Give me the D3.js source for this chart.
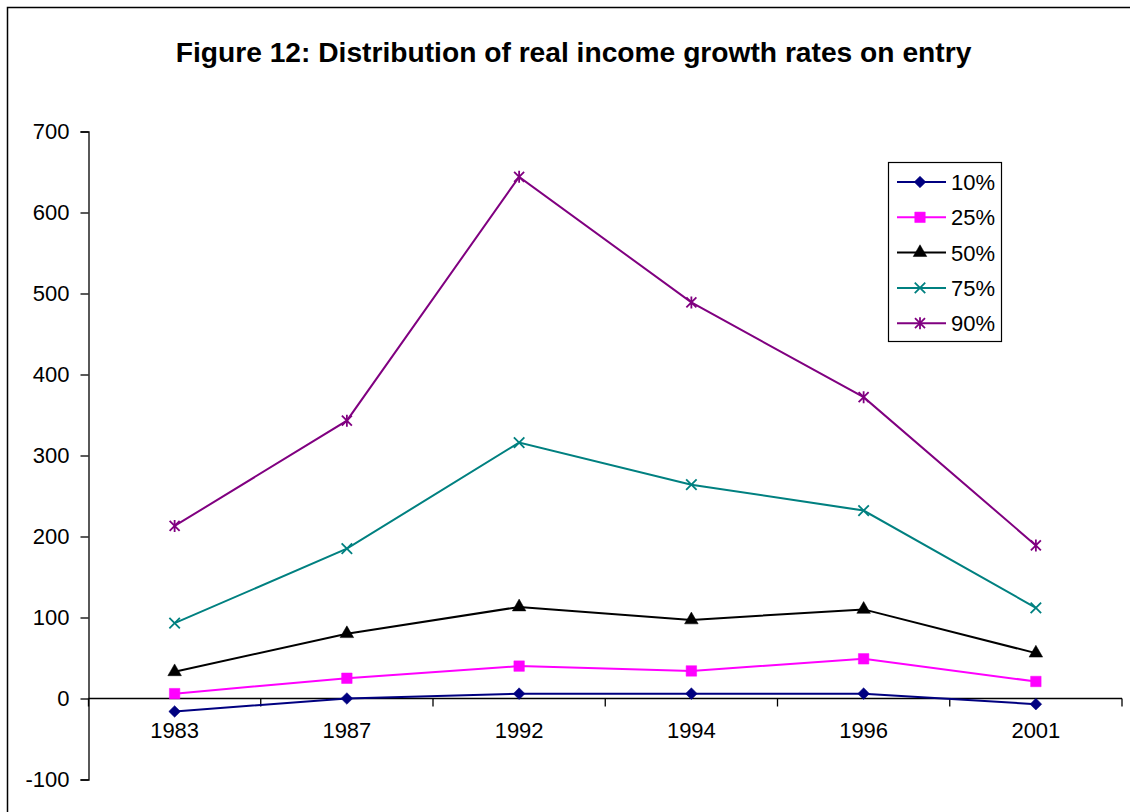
<!DOCTYPE html>
<html>
<head>
<meta charset="UTF-8">
<title>Figure 12</title>
<style>
  body { margin: 0; background: #fff; }
  text { font-family: Arial, "Liberation Sans", sans-serif; fill: #000; }
</style>
</head>
<body>
<div id="chart"></div>
<script src="https://d3js.org/d3.v7.min.js"></script>
<script>
// chart values
var years = ["1983", "1987", "1992", "1994", "1996", "2001"];
var p10 = [-16, 0, 6, 6, 6, -7];
var p25 = [6, 25, 40, 34, 49, 21];
var p50 = [33, 80, 113, 97, 110, 56];
var p75 = [93, 185, 316, 264, 232, 112];
var p90 = [213, 343, 644, 489, 372, 189];
var seriesNames = ["10%", "25%", "50%", "75%", "90%"];
var yTicks = [-100, 0, 100, 200, 300, 400, 500, 600, 700];

var width = 1130, height = 812;

// custom stroke markers (Excel style x and star)
var symX = {
    draw: function(ctx, size) {
        var r = Math.sqrt(size) / 2;
        ctx.moveTo(-r, -r); ctx.lineTo(r, r);
        ctx.moveTo(-r, r); ctx.lineTo(r, -r);
    }
};
var symStar = {
    draw: function(ctx, size) {
        var r = Math.sqrt(size) / 2;
        ctx.moveTo(-r, -r); ctx.lineTo(r, r);
        ctx.moveTo(-r, r); ctx.lineTo(r, -r);
        ctx.moveTo(0, -r * 1.2); ctx.lineTo(0, r * 1.2);
    }
};

var series = [
    {name: seriesNames[0], values: p10, color: "#000080", sym: d3.symbolSquare, size: 68, rot: 45, filled: true},
    {name: seriesNames[1], values: p25, color: "#ff00ff", sym: d3.symbolSquare, size: 110, rot: 0, filled: true},
    {name: seriesNames[2], values: p50, color: "#000000", sym: d3.symbolTriangle, size: 80, rot: 0, filled: true},
    {name: seriesNames[3], values: p75, color: "#008080", sym: symX, size: 110, rot: 0, filled: false},
    {name: seriesNames[4], values: p90, color: "#800080", sym: symStar, size: 100, rot: 0, filled: false}
];

var svg = d3.select("#chart").append("svg")
    .attr("width", width)
    .attr("height", height);

// outer frame
svg.append("rect")
    .attr("x", 7.5).attr("y", 7.5)
    .attr("width", width + 20).attr("height", height + 20)
    .attr("fill", "none").attr("stroke", "#000").attr("stroke-width", 1.5);

svg.append("text")
    .attr("x", 573.5).attr("y", 61.5)
    .attr("text-anchor", "middle")
    .style("font-size", "28.2px")
    .style("font-weight", "bold")
    .text("Figure 12: Distribution of real income growth rates on entry");

var x = d3.scaleBand().domain(years).range([88.5, 1122]).paddingInner(0).paddingOuter(0);
var y = d3.scaleLinear().domain([-100, 700]).range([779.5, 131.5]);

// y axis
var yAxis = svg.append("g")
    .attr("transform", "translate(88.5,0)")
    .call(d3.axisLeft(y).tickValues(yTicks).tickSize(8).tickPadding(11)
        .tickFormat(function(d) { return String(d); }));
yAxis.select(".domain").attr("stroke", "#000").attr("stroke-width", 1.3);
yAxis.selectAll(".tick line").attr("stroke", "#000").attr("stroke-width", 1.3);
yAxis.selectAll(".tick text").style("font-size", "22px").style("font-family", "Arial, 'Liberation Sans', sans-serif");

// x axis at zero, ticks between categories
var xg = svg.append("g").attr("transform", "translate(0," + y(0) + ")");
xg.append("line")
    .attr("x1", x.range()[0]).attr("x2", x.range()[1])
    .attr("stroke", "#000").attr("stroke-width", 1.3);
var bounds = years.map(function(d) { return x(d); }).concat([x(years[years.length - 1]) + x.bandwidth()]);
xg.selectAll(".bt").data(bounds).join("line")
    .attr("x1", function(d) { return d; }).attr("x2", function(d) { return d; })
    .attr("y1", 0).attr("y2", 8)
    .attr("stroke", "#000").attr("stroke-width", 1.3);
xg.selectAll(".lbl").data(years).join("text")
    .attr("x", function(d) { return x(d) + x.bandwidth() / 2; })
    .attr("y", 39.5)
    .attr("text-anchor", "middle")
    .style("font-size", "22px")
    .text(function(d) { return d; });

var line = d3.line()
    .x(function(d, i) { return x(years[i]) + x.bandwidth() / 2; })
    .y(function(d) { return y(d); });

function marker(sel, s) {
    sel.attr("d", d3.symbol().type(s.sym).size(s.size))
        .attr("fill", s.filled ? s.color : "none")
        .attr("stroke", s.color)
        .attr("stroke-width", s.filled ? 0.5 : 1.8);
}

series.forEach(function(s) {
    var g = svg.append("g");
    g.append("path")
        .attr("d", line(s.values))
        .attr("fill", "none")
        .attr("stroke", s.color)
        .attr("stroke-width", 2);
    g.selectAll("path.m").data(s.values).join("path")
        .attr("class", "m")
        .attr("transform", function(d, i) {
            return "translate(" + (x(years[i]) + x.bandwidth() / 2) + "," + y(d) + ") rotate(" + s.rot + ")";
        })
        .call(marker, s);
});

// legend
var leg = svg.append("g");
leg.append("rect")
    .attr("x", 888.5).attr("y", 162.5)
    .attr("width", 113).attr("height", 179)
    .attr("fill", "#fff").attr("stroke", "#000").attr("stroke-width", 1.2);
series.forEach(function(s, i) {
    var cy = 182 + i * 35.3;
    leg.append("line")
        .attr("x1", 897).attr("x2", 946)
        .attr("y1", cy).attr("y2", cy)
        .attr("stroke", s.color).attr("stroke-width", 2);
    leg.append("path")
        .attr("transform", "translate(920," + cy + ") rotate(" + s.rot + ")")
        .call(marker, s);
    leg.append("text")
        .attr("x", 951).attr("y", cy + 8)
        .style("font-size", "22px")
        .text(s.name);
});
</script>
</body>
</html>
